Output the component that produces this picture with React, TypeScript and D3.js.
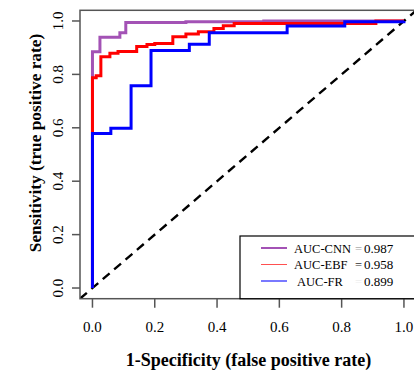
import React from 'react';
import * as d3 from 'd3';

// ROC step points: fpr where the curve rises, tpr after the rise
const cnnFpr = [0, 0, 0.024, 0.088, 0.107, 0.3, 0.55, 1];
const cnnTpr = [0, 0.885, 0.939, 0.956, 0.994, 0.997, 1.0, 1.0];

const ebfFpr = [0, 0, 0.012, 0.027, 0.056, 0.082, 0.142, 0.175, 0.2, 0.258, 0.3, 0.34, 0.39, 0.42, 0.455, 0.91, 1];
const ebfTpr = [0, 0.787, 0.795, 0.866, 0.879, 0.886, 0.904, 0.912, 0.916, 0.941, 0.951, 0.96, 0.972, 0.982, 0.991, 1.0, 1.0];

const frFpr = [0, 0, 0.059, 0.124, 0.188, 0.311, 0.375, 0.625, 0.81, 1];
const frTpr = [0, 0.579, 0.598, 0.757, 0.889, 0.913, 0.956, 0.981, 0.997, 1.0];

const ticks = [0, 0.2, 0.4, 0.6, 0.8, 1.0];
const legendNames = ['AUC-CNN', 'AUC-EBF', 'AUC-FR'];
const legendAuc = ['0.987', '0.958', '0.899'];

const W = 414;
const H = 374;
const font = "'Liberation Serif', 'Times New Roman', Times, serif";

const App: React.FC = () => {
  const x = d3.scaleLinear().domain([-0.04, 1.04]).range([80, 416.4]);
  const y = d3.scaleLinear().domain([-0.04, 1.04]).range([298.7, 10.3]);

  const line = d3.line<[number, number]>()
    .x(d => x(d[0]))
    .y(d => y(d[1]))
    .curve(d3.curveStepAfter);

  const series = [
    { fpr: cnnFpr, tpr: cnnTpr, color: '#a352b5', lw: 3 },
    { fpr: ebfFpr, tpr: ebfTpr, color: '#ff0000', lw: 3 },
    { fpr: frFpr, tpr: frTpr, color: '#0000ff', lw: 3 },
  ];
  const legendColors = ['#a352b5', '#ff5050', '#3030ff'];
  const legendWidths = [2, 1, 1.3];
  const eqColors = ['#aaa', '#333', '#eee'];

  const x0 = x(-0.04);
  const x1 = x(1.04);
  const y0 = y(-0.04);
  const y1 = y(1.04);

  return (
    <svg width={W} height={H} style={{ position: 'absolute', left: 0, top: 0, background: '#fff', fontFamily: font }}>
      <defs>
        <clipPath id="plotClip">
          <rect x={x0} y={y1} width={x1 - x0} height={y0 - y1} />
        </clipPath>
      </defs>

      {/* diagonal reference line */}
      <line x1={x(-0.04)} y1={y(-0.04)} x2={x(1.04)} y2={y(1.04)}
        stroke="#000" strokeWidth={2.4} strokeDasharray="9,6" clipPath="url(#plotClip)" />

      <g clipPath="url(#plotClip)">
        {series.map((s, i) => (
          <path key={i}
            d={line(s.fpr.map((f, j) => [f, s.tpr[j]] as [number, number])) || ''}
            fill="none" stroke={s.color} strokeWidth={s.lw} />
        ))}
      </g>

      {/* box */}
      <rect x={x0} y={y1} width={x1 - x0} height={y0 - y1} fill="none" stroke="#555" strokeWidth={1.5} />

      {/* x axis */}
      {ticks.map(t => (
        <g key={'x' + t}>
          <line x1={x(t)} x2={x(t)} y1={y0} y2={y0 + 9} stroke="#555" strokeWidth={1.5} />
          <text x={x(t)} y={332} textAnchor="middle" fontSize={15}>{d3.format('.1f')(t)}</text>
        </g>
      ))}

      {/* y axis */}
      {ticks.map(t => (
        <g key={'y' + t}>
          <line x1={x0 - 8} x2={x0} y1={y(t)} y2={y(t)} stroke="#555" strokeWidth={1.5} />
          <text transform={`translate(63,${y(t)}) rotate(-90)`} textAnchor="middle" fontSize={15}>
            {d3.format('.1f')(t)}
          </text>
        </g>
      ))}

      <text x={248.5} y={366} textAnchor="middle" fontSize={18} fontWeight="bold">
        1-Specificity (false positive rate)
      </text>
      <text transform={`translate(41,143) rotate(-90)`} textAnchor="middle" fontSize={17.3} fontWeight="bold">
        Sensitivity (true positive rate)
      </text>

      {/* legend */}
      <rect x={240} y={236} width={200} height={y0 - 236} fill="#fff" stroke="#000" strokeWidth={1.2} />
      {legendNames.map((n, i) => {
        const ly = 248 + i * 16.5;
        return (
          <g key={n}>
            <line x1={261} x2={287} y1={ly} y2={ly} stroke={legendColors[i]} strokeWidth={legendWidths[i]} />
            <text x={i === 2 ? 297 : 294} y={ly + 4.5} fontSize={12.5}>{n}</text>
            <text x={355} y={ly + 4.5} fontSize={12.5} fill={eqColors[i]}>=</text>
            <text x={364} y={ly + 4.5} fontSize={13}>{legendAuc[i]}</text>
          </g>
        );
      })}
    </svg>
  );
};

export default App;
